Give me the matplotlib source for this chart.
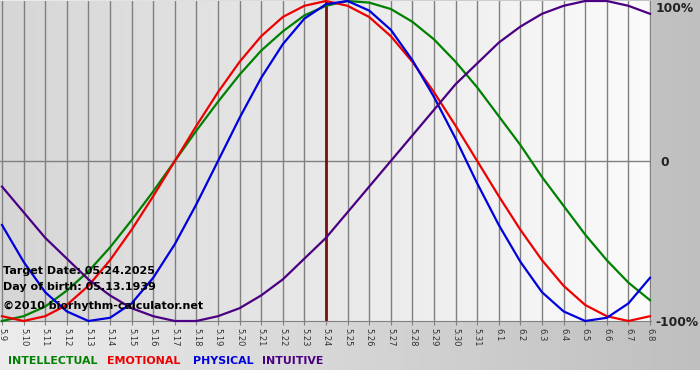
import numpy as np
import matplotlib
matplotlib.use("Agg")
import matplotlib.pyplot as plt

# days shown on the x axis (5.9 .. 6.8)
days = ["5.9", "5.10", "5.11", "5.12", "5.13", "5.14", "5.15", "5.16", "5.17", "5.18",
        "5.19", "5.20", "5.21", "5.22", "5.23", "5.24", "5.25", "5.26", "5.27", "5.28",
        "5.29", "5.30", "5.31", "6.1", "6.2", "6.3", "6.4", "6.5", "6.6", "6.7", "6.8"]

# daily values (-1 = -100%, 1 = 100%)
intellectual = [-1.00, -0.97, -0.91, -0.81, -0.69, -0.54, -0.37, -0.19, 0.00, 0.19,
                0.37, 0.54, 0.69, 0.81, 0.91, 0.97, 1.00, 0.99, 0.95, 0.87,
                0.76, 0.62, 0.46, 0.28, 0.10, -0.10, -0.28, -0.46, -0.62, -0.76, -0.87]
emotional = [-0.97, -1.00, -0.97, -0.90, -0.78, -0.62, -0.43, -0.22, 0.00, 0.22,
             0.43, 0.62, 0.78, 0.90, 0.97, 1.00, 0.97, 0.90, 0.78, 0.62,
             0.43, 0.22, 0.00, -0.22, -0.43, -0.62, -0.78, -0.90, -0.97, -1.00, -0.97]
physical = [-0.40, -0.63, -0.82, -0.94, -1.00, -0.98, -0.89, -0.73, -0.52, -0.27,
            0.00, 0.27, 0.52, 0.73, 0.89, 0.98, 1.00, 0.94, 0.82, 0.63,
            0.40, 0.14, -0.14, -0.40, -0.63, -0.82, -0.94, -1.00, -0.98, -0.89, -0.73]
intuitive = [-0.16, -0.32, -0.48, -0.61, -0.74, -0.84, -0.92, -0.97, -1.00, -1.00,
             -0.97, -0.92, -0.84, -0.74, -0.61, -0.48, -0.32, -0.16, 0.00, 0.16,
             0.32, 0.48, 0.61, 0.74, 0.84, 0.92, 0.97, 1.00, 1.00, 0.97, 0.92]

target_day = "5.24"
names = ["INTELLECTUAL", "EMOTIONAL", "PHYSICAL", "INTUITIVE"]
colors = ["#008000", "#ee0000", "#0000dd", "#4b0082"]

W, H = 700, 380
fig = plt.figure(figsize=(W / 100, H / 100), dpi=100)
fig.patch.set_facecolor("white")

# grey gradient behind everything (light left -> grey right)
bg = fig.add_axes([0, 10 / H, 1, 370 / H], zorder=0)
grad = np.linspace(0, 1, 256).reshape(1, -1)
bg.imshow(grad, aspect="auto", cmap=matplotlib.colors.LinearSegmentedColormap.from_list(
    "bg", ["#ececec", "#bfbfbf"]), extent=[0, 1, 0, 1])
bg.axis("off")

# plot area
ax = fig.add_axes([0, (H - 321) / H, 651 / W, 320 / H], zorder=1)
x = np.arange(len(days))
ax.imshow(grad, aspect="auto", cmap=matplotlib.colors.LinearSegmentedColormap.from_list(
    "pa", ["#d6d6d6", "#fbfbfb"]), extent=[-0.1, 30.1, -1.0, 1.0], zorder=0)

ax.set_xlim(-2 / 21.6, 30 + 1 / 21.6)
ax.set_ylim(-1, 1)
ax.set_xticks(x)
ax.set_xticklabels(days, rotation=-90, fontsize=6, color="#333333")
ax.set_yticks([])
ax.grid(axis="x", color="#808080", lw=1, zorder=1)
ax.axhline(0, color="#808080", lw=1, zorder=1)
ax.tick_params(axis="x", length=3, color="#808080", pad=2)
for s in ["top", "left", "right"]:
    ax.spines[s].set_visible(False)
ax.spines["bottom"].set_color("#808080")

ax.axvline(days.index(target_day), color="#7a1010", lw=2, zorder=2)

for vals, c in zip([intellectual, emotional, physical, intuitive], colors):
    ax.plot(x, vals, color=c, lw=1.6, zorder=3, clip_on=False, solid_joinstyle="round")

# right side percentage labels
fig.text(656 / W, 1 - 8 / H, "100%", fontsize=8.8, fontweight="bold", va="center", color="#222222")
fig.text(660 / W, 1 - 162 / H, "0", fontsize=8.8, fontweight="bold", va="center", color="#222222")
fig.text(655 / W, 1 - 322 / H, "-100%", fontsize=8.8, fontweight="bold", va="center", color="#222222")

# info text
fig.text(3 / W, 1 - 271 / H, "Target Date: 05.24.2025", fontsize=8, fontweight="bold", va="center", zorder=5)
fig.text(3 / W, 1 - 287 / H, "Day of birth: 05.13.1939", fontsize=8, fontweight="bold", va="center", zorder=5)
fig.text(3 / W, 1 - 306 / H, "\u00a92010 biorhythm-calculator.net", fontsize=8, fontweight="bold", va="center", zorder=5)

# coloured legend row
leg_x = [8, 107, 193, 262]
for name, c, lx in zip(names, colors, leg_x):
    fig.text(lx / W, 1 - 361 / H, name, fontsize=7.9, fontweight="bold", color=c, va="center")

fig.savefig("out.png", dpi=100)
